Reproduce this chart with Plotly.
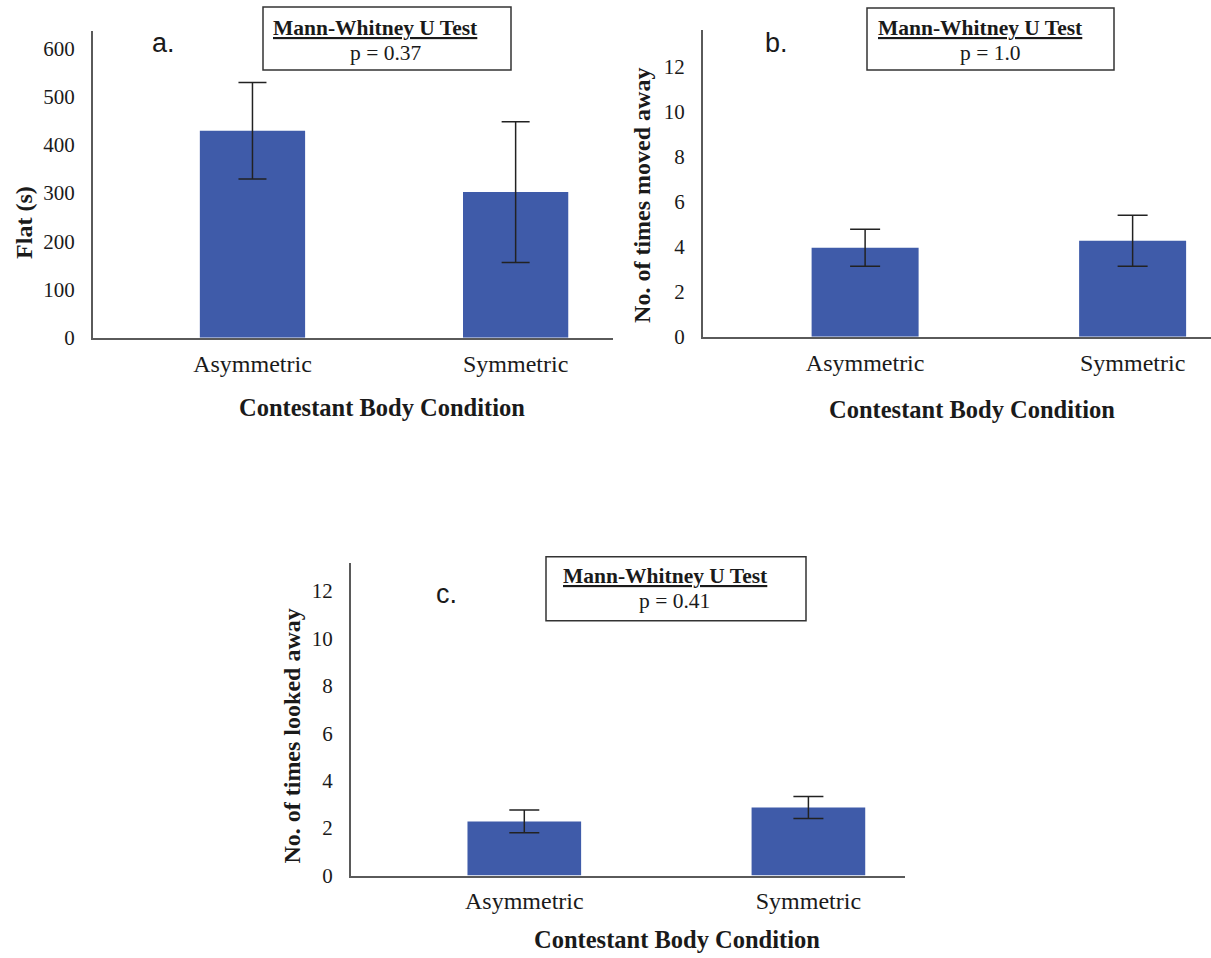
import plotly.graph_objects as go

W, H = 1211, 958
# the captured page appears vertically compressed by ~1.2 %; compensate
VK = 0.988

def fx(px):
    return px / W

def fy(py):
    return 1 - py / (H * VK)

# ---------------- data ----------------
categories = ["Asymmetric", "Symmetric"]

flat_means = [429, 302]
flat_err = [100, 146]

moved_means = [3.96, 4.27]
moved_err = [0.82, 1.13]

looked_means = [2.28, 2.87]
looked_err = [0.48, 0.46]

flat_ticks = [0, 100, 200, 300, 400, 500, 600]
count_ticks = [0, 2, 4, 6, 8, 10, 12]

p_values = ["p = 0.37", "p = 1.0", "p = 0.41"]
panel_letters = ["a.", "b.", "c."]
y_titles = ["Flat (s)", "No. of times moved away", "No. of times looked away"]
x_title = "Contestant Body Condition"
test_name = "Mann-Whitney U Test"

# ---------------- styles ----------------
BAR = "#3F5BA9"
AX = "#5a5a5a"
TXT = "#1a1a1a"
SERIF = "Liberation Serif"
SANS = "Liberation Sans"

fig = go.Figure()

panels = [
    dict(means=flat_means, err=flat_err, xa="x", ya="y", cap=14),
    dict(means=moved_means, err=moved_err, xa="x2", ya="y2", cap=15),
    dict(means=looked_means, err=looked_err, xa="x3", ya="y3", cap=15),
]
for p in panels:
    fig.add_trace(go.Bar(
        x=categories, y=p["means"], width=0.4,
        marker=dict(color=BAR, line=dict(width=0)),
        error_y=dict(type="data", array=p["err"], visible=True,
                     color="#222222", thickness=1.5, width=p["cap"]),
        xaxis=p["xa"], yaxis=p["ya"], showlegend=False, hoverinfo="skip",
    ))

def xaxis(d0, d1, r, anchor):
    return dict(domain=[fx(d0), fx(d1)], range=r, type="category", anchor=anchor,
                showline=True, linecolor=AX, linewidth=2, ticks="",
                showgrid=False, zeroline=False, ticklabelstandoff=3,
                tickfont=dict(family=SERIF, size=24, color=TXT))

def yaxis(top, bottom, r, tv, anchor):
    return dict(domain=[fy(bottom), fy(top)], range=r, anchor=anchor,
                tickvals=tv, showline=True, linecolor=AX, linewidth=2, ticks="",
                showgrid=False, zeroline=False, ticklabelstandoff=12,
                tickfont=dict(family=SERIF, size=21, color=TXT))

fig.update_layout(
    width=W, height=H,
    margin=dict(l=0, r=0, t=0, b=0),
    paper_bgcolor="white", plot_bgcolor="white",
    xaxis=xaxis(93, 613, [-0.606, 1.37], "y"),
    yaxis=yaxis(31, 338, [0, 636], flat_ticks, "x"),
    xaxis2=xaxis(703, 1211, [-0.606, 1.293], "y2"),
    yaxis2=yaxis(30, 337, [0, 13.64], count_ticks, "x2"),
    xaxis3=xaxis(351, 905, [-0.61, 1.34], "y3"),
    yaxis3=yaxis(563, 876, [0, 13.2], count_ticks, "x3"),
)

ann = []
shapes = []

# Mann-Whitney boxes
boxes = [
    dict(x0=263, x1=511, y0=7, y1=70, t1=(375, 28), t2=(386, 53)),
    dict(x0=867, x1=1114, y0=8, y1=70, t1=(980, 28), t2=(990, 53)),
    dict(x0=546, x1=806, y0=557, y1=621, t1=(665, 576), t2=(674, 601)),
]
for b, pv in zip(boxes, p_values):
    shapes.append(dict(type="rect", xref="paper", yref="paper",
                       x0=fx(b["x0"]), x1=fx(b["x1"]), y0=fy(b["y1"]), y1=fy(b["y0"]),
                       line=dict(color="#333333", width=1.5), fillcolor="white"))
    ann.append(dict(xref="paper", yref="paper", x=fx(b["t1"][0]), y=fy(b["t1"][1]),
                    text="<b><u>" + test_name + "</u></b>", showarrow=False,
                    xanchor="center", yanchor="middle",
                    font=dict(family=SERIF, size=21.5, color=TXT)))
    ann.append(dict(xref="paper", yref="paper", x=fx(b["t2"][0]), y=fy(b["t2"][1]),
                    text=pv, showarrow=False, xanchor="center", yanchor="middle",
                    font=dict(family=SERIF, size=21.5, color=TXT)))

# panel letters
for letter, (lx, ly) in zip(panel_letters, [(163, 43), (776, 43), (446, 594)]):
    ann.append(dict(xref="paper", yref="paper", x=fx(lx), y=fy(ly), text=letter,
                    showarrow=False, xanchor="center", yanchor="middle",
                    font=dict(family=SANS, size=27, color=TXT)))

# x titles
for (tx, ty) in [(382, 408), (972, 410), (677, 940)]:
    ann.append(dict(xref="paper", yref="paper", x=fx(tx), y=fy(ty),
                    text="<b>" + x_title + "</b>", showarrow=False,
                    xanchor="center", yanchor="middle",
                    font=dict(family=SERIF, size=24.5, color=TXT)))

# y titles
for t, (tx, ty) in zip(y_titles, [(24, 223), (642, 196), (292, 737)]):
    ann.append(dict(xref="paper", yref="paper", x=fx(tx), y=fy(ty),
                    text="<b>" + t + "</b>", showarrow=False, textangle=-90,
                    xanchor="center", yanchor="middle",
                    font=dict(family=SERIF, size=24, color=TXT)))

fig.update_layout(annotations=ann, shapes=shapes)

post = (
    "var d=document.documentElement,b=document.body;"
    "d.style.margin='0';d.style.padding='0';d.style.overflow='hidden';"
    "b.style.margin='0';b.style.padding='0';b.style.overflow='hidden';"
)

fig.write_html(
    "out.html",
    config={"displayModeBar": False},
    post_script=post,
)
